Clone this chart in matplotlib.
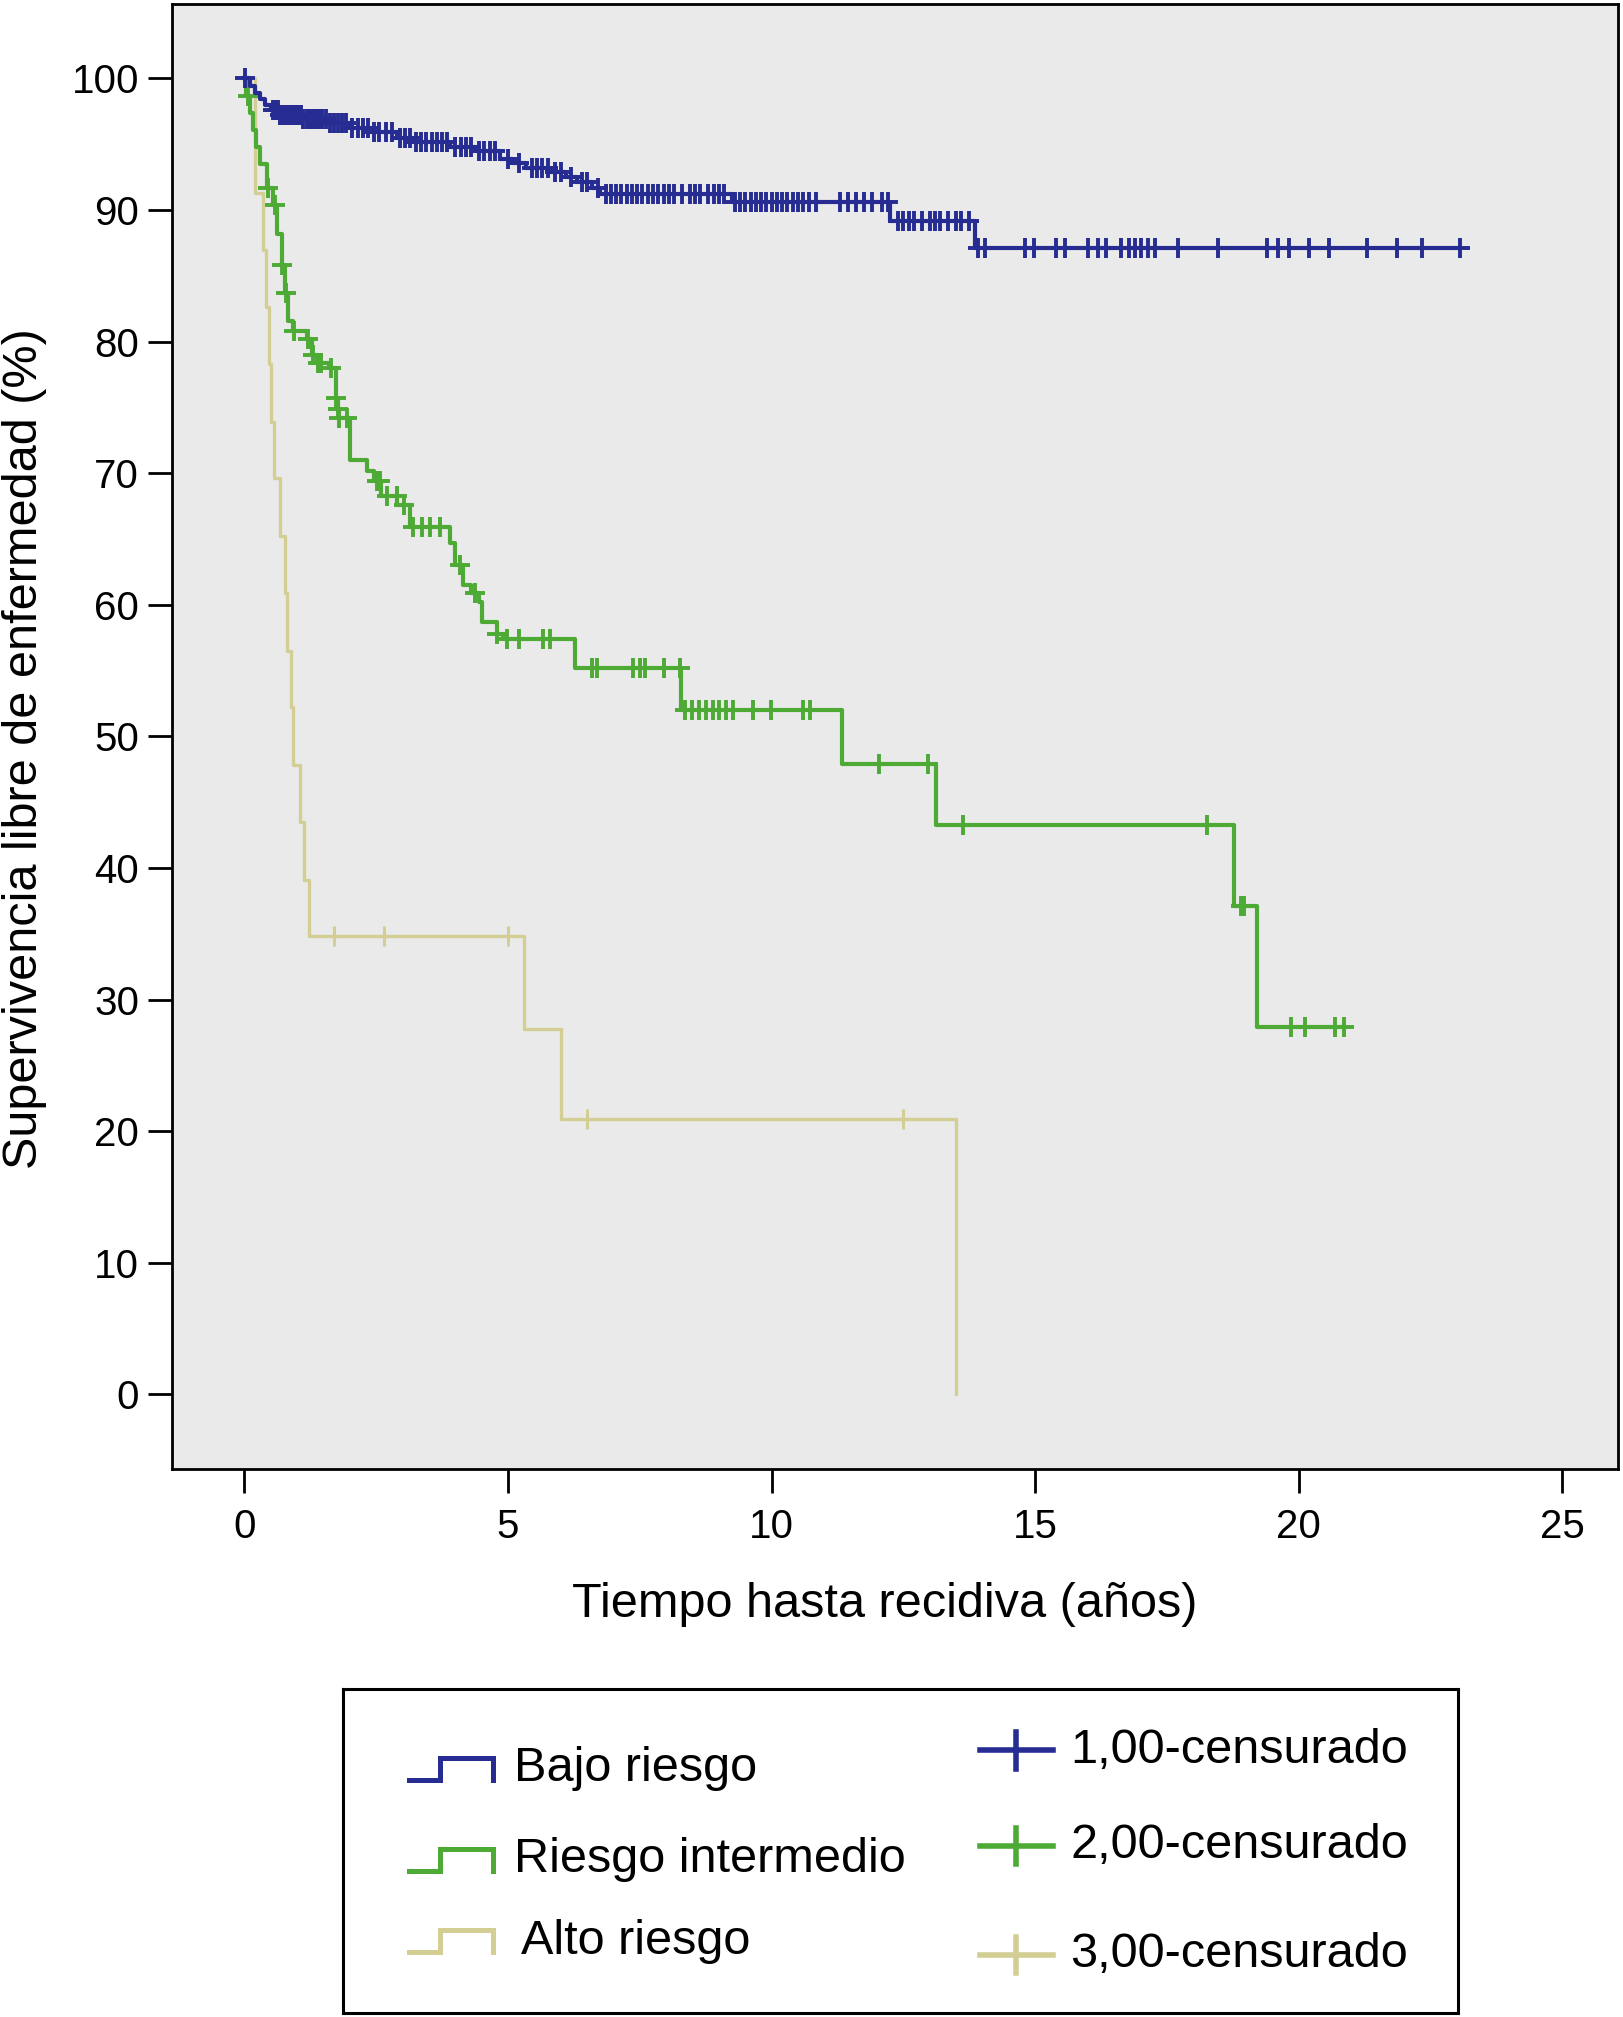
import matplotlib
matplotlib.use("Agg")
import matplotlib.pyplot as plt
import numpy as np

plt.rcParams['font.family'] = ['Liberation Sans', 'DejaVu Sans']

# Kaplan-Meier steps (time in years, survival in %)
bajo_t = [0, 0.1, 0.2, 0.3, 0.4, 0.5, 0.65, 1.1, 1.6, 2.0, 2.4, 2.9, 3.2, 3.9, 4.4,
          4.85, 5.1, 5.35, 5.8, 6.1, 6.3, 6.6, 6.75, 9.25, 12.25, 13.85]
bajo_s = [100, 99.4, 98.9, 98.4, 98.0, 97.6, 97.2, 96.9, 96.6, 96.2, 95.9, 95.5, 95.2, 94.8, 94.5,
          93.9, 93.6, 93.2, 92.9, 92.5, 92.1, 91.7, 91.2, 90.6, 89.2, 87.1]
bajo_fin = 23.05
bajo_cens = [0.02, 0.55, 0.6, 0.64, 0.68, 0.72, 0.76, 0.8, 0.84, 0.88, 0.92, 0.97, 1.02, 1.07,
             1.12, 1.18, 1.24, 1.3, 1.36, 1.42, 1.48, 1.55, 1.62, 1.7, 1.78, 1.85, 1.93, 2.05,
             2.15, 2.25, 2.35, 2.45, 2.55, 2.68, 2.8, 2.95, 3.05, 3.15, 3.25, 3.35, 3.45, 3.55,
             3.65, 3.75, 3.85, 4.0, 4.1, 4.2, 4.3, 4.45, 4.55, 4.65, 4.75, 5.0, 5.2, 5.45, 5.55,
             5.65, 5.75, 5.9, 6.0, 6.2, 6.4, 6.5, 6.7, 6.85, 6.95, 7.05, 7.15, 7.25, 7.35, 7.45,
             7.55, 7.65, 7.75, 7.85, 7.95, 8.05, 8.15, 8.3, 8.45, 8.55, 8.65, 8.8, 8.9, 9.0, 9.1,
             9.3, 9.4, 9.5, 9.6, 9.7, 9.8, 9.9, 10.0, 10.1, 10.2, 10.3, 10.4, 10.5, 10.6, 10.7,
             10.85, 11.3, 11.45, 11.6, 11.75, 11.9, 12.1, 12.2, 12.4, 12.5, 12.6, 12.7, 12.85,
             13.0, 13.1, 13.2, 13.35, 13.5, 13.6, 13.75, 13.92, 14.04, 14.81, 14.98, 15.4, 15.57,
             16.0, 16.2, 16.34, 16.63, 16.77, 16.9, 17.01, 17.14, 17.27, 17.7, 18.46, 19.4, 19.6,
             19.82, 20.2, 20.58, 21.3, 21.86, 22.33, 23.05]

inter_t = [0, 0.04, 0.1, 0.16, 0.22, 0.3, 0.42, 0.55, 0.61, 0.71, 0.77, 0.83, 0.93, 1.19, 1.28,
           1.38, 1.6, 1.74, 1.77, 1.8, 2.0, 2.32, 2.45, 2.6, 2.9, 3.14, 3.9, 4.0, 4.15, 4.3, 4.45,
           4.5, 4.79, 4.91, 6.27, 8.28, 11.34, 13.11, 18.77, 19.2]
inter_s = [100, 98.7, 97.4, 96.1, 94.8, 93.5, 91.7, 90.4, 88.2, 85.8, 83.7, 81.6, 80.8, 80.2, 79.0,
           78.4, 78.0, 75.7, 74.9, 74.2, 71.0, 70.2, 69.4, 68.3, 67.6, 65.9, 64.7, 63.0, 61.5, 60.9,
           60.2, 58.7, 57.8, 57.4, 55.2, 52.0, 47.9, 43.3, 37.1, 27.9]
inter_fin = 20.85
inter_cens = [0.06, 0.45, 0.58, 0.72, 0.78, 0.95, 1.2, 1.3, 1.4, 1.45, 1.65, 1.74, 1.77, 1.8,
              1.95, 2.51, 2.57, 2.7, 2.89, 3.02, 3.2, 3.36, 3.52, 3.71, 4.09, 4.37, 4.79, 4.98,
              5.2, 5.67, 5.8, 6.59, 6.68, 7.38, 7.5, 7.6, 7.95, 8.26, 8.36, 8.49, 8.62, 8.75,
              8.88, 9.01, 9.14, 9.27, 9.65, 9.99, 10.6, 10.73, 12.03, 12.97, 13.63, 18.26, 18.9,
              18.96, 19.86, 20.11, 20.68, 20.85]

alto_t = [0, 0.2, 0.36, 0.41, 0.46, 0.5, 0.56, 0.68, 0.77, 0.8, 0.89, 0.93, 1.06, 1.13, 1.23,
          5.3, 6.0, 13.5]
alto_s = [100, 91.3, 87.0, 82.6, 78.3, 73.9, 69.6, 65.2, 60.9, 56.5, 52.2, 47.8, 43.5, 39.1, 34.8,
          27.8, 20.9, 0]
alto_fin = 13.5
alto_cens = [1.7, 2.65, 5.0, 6.5, 12.5]

azul = '#262C92'
verde = '#4DAA35'
amarillo = '#D2CE94'

fig = plt.figure(figsize=(16.23, 20.17), dpi=100)
ax = fig.add_axes([0.1062, 0.2717, 0.8906, 0.7264])
ax.set_facecolor('#EAEAEA')


def curva(t, s, fin, cens, color, lw, mew):
    t = np.asarray(t, dtype=float)
    s = np.asarray(s, dtype=float)
    ax.step(np.append(t, fin), np.append(s, s[-1]), where='post', color=color, lw=lw)
    c = np.asarray(cens, dtype=float)
    idx = np.searchsorted(t, c, side='right') - 1
    ax.plot(c, s[idx], ls='none', marker='+', ms=15, mew=mew, color=color)


curva(alto_t, alto_s, alto_fin, alto_cens, amarillo, 2.4, 2.2)
curva(inter_t, inter_s, inter_fin, inter_cens, verde, 3.0, 2.8)
curva(bajo_t, bajo_s, bajo_fin, bajo_cens, azul, 3.0, 2.8)

ax.set_xlim(-1.366, 26.05)
ax.set_ylim(-5.67, 105.67)
ax.set_xticks(range(0, 26, 5))
ax.set_yticks(range(0, 101, 10))
ax.tick_params(labelsize=29, length=17, width=2, direction='out', pad=7)
ax.tick_params(axis='x', pad=11)
for sp in ax.spines.values():
    sp.set_linewidth(2)
    sp.set_color('black')

ax.set_xlabel('Tiempo hasta recidiva (años)', fontsize=35)
ax.xaxis.set_label_coords(0.493, -0.077)
ax.set_ylabel('Supervivencia libre de enfermedad (%)', fontsize=35)
ax.yaxis.set_label_coords(-0.087, 0.492)

# legend box drawn by hand to get the SPSS look
lg = fig.add_axes([0.2116, 0.002, 0.687, 0.1607])
lg.set_xlim(0, 1)
lg.set_ylim(0, 1)
lg.set_xticks([])
lg.set_yticks([])
for sp in lg.spines.values():
    sp.set_linewidth(2.2)

series = ['Bajo riesgo', 'Riesgo intermedio', 'Alto riesgo']
censurados = ['1,00-censurado', '2,00-censurado', '3,00-censurado']
colores = [azul, verde, amarillo]
filas1 = [0.754, 0.472, 0.222]
filas2 = [0.81, 0.516, 0.179]
texto_x1 = [0.153, 0.153, 0.159]
h = 0.068
x0, x1, xm = 0.059, 0.134, 0.087
for nombre, col, y, tx in zip(series, colores, filas1, texto_x1):
    lg.plot([x0, xm, xm, x1, x1], [y - h / 2, y - h / 2, y + h / 2, y + h / 2, y - h / 2],
            color=col, lw=3.6, solid_joinstyle='miter')
    lg.text(tx, y, nombre, fontsize=35, va='center', ha='left')
for nombre, col, y in zip(censurados, colores, filas2):
    lg.plot([0.571, 0.636], [y, y], color=col, lw=4.0)
    lg.plot([0.603, 0.603], [y - 0.056, y + 0.056], color=col, lw=4.0)
    lg.text(0.652, y, nombre, fontsize=35, va='center', ha='left')

fig.savefig('out.png', dpi=100)
